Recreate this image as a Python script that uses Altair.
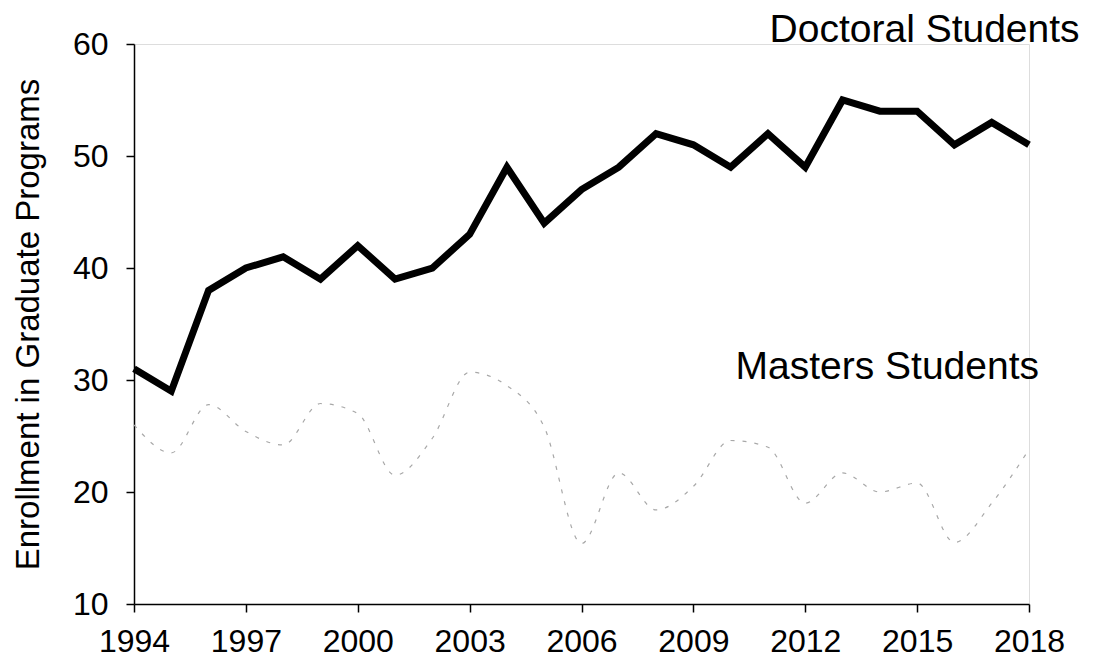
import altair as alt
import pandas as pd

years = list(range(1994, 2019))
doctoral = [31, 29, 38, 40, 41, 39, 42, 39, 40, 43, 49, 44, 47, 49, 52, 51, 49, 52, 49, 55, 54, 54, 51, 53, 51]
masters = [26, 23.5, 27.8, 25.4, 24.2, 27.9, 27, 21.5, 24.8, 30.7, 29.5, 25.8, 15.4, 21.7, 18.4, 20.5, 24.6, 24, 19, 21.7, 20, 20.8, 15.5, 19, 23.8]
x_ticks = [1994, 1997, 2000, 2003, 2006, 2009, 2012, 2015, 2018]
y_ticks = [10, 20, 30, 40, 50, 60]
label_text = ["Doctoral Students", "Masters Students"]
label_year = [2015.2, 2014.2]
label_value = [60.2, 30.1]

doc_df = pd.DataFrame({"year": years, "value": doctoral})
mas_df = pd.DataFrame({"year": years, "value": masters})
lab_df = pd.DataFrame({"text": label_text, "year": label_year, "value": label_value})

FONT = "Liberation Sans"

x = alt.X("year:Q", scale=alt.Scale(domain=[1994, 2018], nice=False, zero=False),
          axis=alt.Axis(values=x_ticks, format="d", title=None, grid=False,
                        labelFontSize=32, labelFont=FONT, labelColor="black",
                        labelPadding=14, tickSize=8, tickColor="black",
                        domainColor="black", domainWidth=1.5, tickWidth=1.5,
                        labelFlush=False, labelOverlap=False))
y = alt.Y("value:Q", scale=alt.Scale(domain=[10, 60], nice=False, zero=False),
          axis=alt.Axis(values=y_ticks, title="Enrollment in Graduate Programs", grid=False,
                        labelFontSize=32, labelFont=FONT, labelColor="black",
                        labelPadding=18, tickSize=8, tickColor="black",
                        domainColor="black", domainWidth=1.5, tickWidth=1.5,
                        titleFontSize=33, titleFont=FONT, titleFontWeight="normal",
                        titleColor="black", titlePadding=27, labelFlush=False))

doc_line = alt.Chart(doc_df).mark_line(color="black", strokeWidth=7, strokeJoin="miter").encode(x=x, y=y)
mas_line = alt.Chart(mas_df).mark_line(color="#a8a8a8", strokeWidth=1.2, strokeDash=[4, 8],
                                       interpolate="monotone").encode(x=x, y=y)
labels = alt.Chart(lab_df).mark_text(fontSize=39, font=FONT, color="black", align="center",
                                     baseline="alphabetic").encode(
    x=alt.X("year:Q"), y=alt.Y("value:Q"), text="text:N")

chart = alt.layer(mas_line, doc_line, labels).properties(
    width=895, height=560,
    autosize=alt.AutoSizeParams(type="none"),
    padding={"left": 126, "top": 36, "right": 70, "bottom": 56},
).configure_view(stroke=None).configure(background="white")

chart.save("out.html", embed_options={"renderer": "svg", "actions": False})
